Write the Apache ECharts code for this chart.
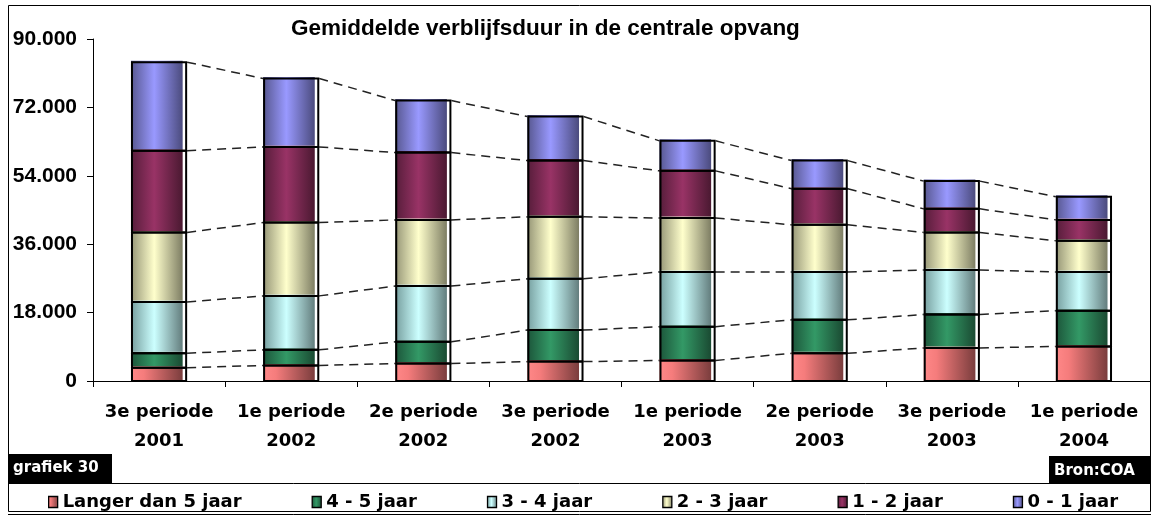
<!DOCTYPE html>
<html>
<head>
<meta charset="utf-8">
<script src="https://cdn.jsdelivr.net/npm/echarts@6/dist/echarts.min.js"></script>
<style>html,body{margin:0;padding:0;background:#fff;}#c{width:1151px;height:516px;}</style>
</head>
<body>
<div id="c"></div>
<script>
const categories = ['3e periode\n2001','1e periode\n2002','2e periode\n2002','3e periode\n2002','1e periode\n2003','2e periode\n2003','3e periode\n2003','1e periode\n2004'];
const seriesNames = ['Langer dan 5 jaar','4 - 5 jaar','3 - 4 jaar','2 - 3 jaar','1 - 2 jaar','0 - 1 jaar'];
const langer5 = [3500, 4100, 4600, 5100, 5400, 7300, 8700, 9100];
const jaar45  = [3800, 4100, 5700, 8300, 8900, 8800, 8800, 9400];
const jaar34  = [13500, 14200, 14700, 13500, 14400, 12600, 11700, 10200];
const jaar23  = [18300, 19300, 17400, 16300, 14200, 12400, 9900, 8200];
const jaar12  = [21500, 19900, 17700, 14800, 12400, 9500, 6200, 5500];
const jaar01  = [23300, 18000, 13700, 11600, 7900, 7400, 7300, 6100];
const yTicks = [0, 18000, 36000, 54000, 72000, 90000];

const allValues = [langer5, jaar45, jaar34, jaar23, jaar12, jaar01];
const stopsList = [
  [[0,'#ff8888'],[0.25,'#f57c7c'],[1,'#7a3d3d']],
  [[0,'#1c553a'],[0.45,'#339966'],[1,'#1a4a32']],
  [[0,'#769e9e'],[0.45,'#ccffff'],[1,'#637d7d']],
  [[0,'#959576'],[0.45,'#ffffcc'],[1,'#7d7d63']],
  [[0,'#561d3a'],[0.45,'#993366'],[1,'#4a1931']],
  [[0,'#57578f'],[0.45,'#9999ff'],[1,'#4b4b7d']]
];
const grads = stopsList.map(s => new echarts.graphic.LinearGradient(0,0,1,0, s.map(p => ({offset:p[0], color:p[1]}))));

// stacked bases/tops built from the arrays
const stacked = [];
const cum = categories.map(() => 0);
allValues.forEach((vals) => {
  const rows = vals.map((v, i) => { const r = [i, cum[i], cum[i] + v]; cum[i] += v; return r; });
  stacked.push(rows);
});

const W_FACTOR = 0.41;
function barRender(si) {
  return function (params, api) {
    const ci = api.value(0), lo = api.value(1), hi = api.value(2);
    const pT = api.coord([ci, hi]);
    const pB = api.coord([ci, lo]);
    const w = api.size([1, 0])[0] * W_FACTOR;
    const cx = pT[0];
    const oL = cx - w / 2, oR = cx + w / 2;
    const fL = oL - 1, fR = oR - 3.5;
    const fTop = pT[1] - 1.5;
    const fBot = lo === 0 ? pB[1] : pB[1] - 1.5;
    return {
      type: 'group',
      children: [
        { type: 'rect', shape: { x: fL, y: fTop, width: fR - fL, height: fBot - fTop }, style: { fill: grads[si] } },
        { type: 'rect', shape: { x: oL, y: pT[1], width: oR - oL, height: pB[1] - pT[1] }, style: { fill: 'none', stroke: '#000', lineWidth: 2 } }
      ]
    };
  };
}
function connRender(params, api) {
  const ci = api.value(0), v1 = api.value(1), v2 = api.value(2);
  const p1 = api.coord([ci, v1]);
  const p2 = api.coord([ci + 1, v2]);
  const w = api.size([1, 0])[0] * W_FACTOR;
  return {
    type: 'line',
    shape: { x1: p1[0] + w / 2 + 1, y1: p1[1], x2: p2[0] - w / 2 - 1, y2: p2[1] },
    style: { stroke: '#222', lineWidth: 1.5, lineDash: [9, 6] }
  };
}

const series = [];
stacked.forEach((rows, si) => {
  const conn = [];
  for (let i = 0; i < rows.length - 1; i++) conn.push([i, rows[i][2], rows[i + 1][2]]);
  series.push({
    type: 'custom', name: seriesNames[si] + '_c', z: 1, silent: true,
    renderItem: connRender, encode: { x: 0, y: [1, 2] }, data: conn
  });
});
stacked.forEach((rows, si) => {
  series.push({
    type: 'custom', name: seriesNames[si], z: 3,
    itemStyle: { color: grads[si] },
    renderItem: barRender(si), encode: { x: 0, y: [1, 2] }, data: rows
  });
});

function fmt(v) {
  return String(v).replace(/\B(?=(\d{3})+(?!\d))/g, '.');
}

const chart = echarts.init(document.getElementById('c'), null, { renderer: 'canvas' });
chart.setOption({
  animation: false,
  backgroundColor: '#fff',
  title: {
    text: 'Gemiddelde verblijfsduur in de centrale opvang',
    left: 286, top: 12,
    textStyle: { fontFamily: 'Liberation Sans', fontWeight: 'bold', fontSize: 22.5, color: '#000' }
  },
  grid: { left: 93, right: 1, top: 39, bottom: 135 },
  xAxis: {
    type: 'category', data: categories,
    axisLine: { lineStyle: { color: '#000', width: 1 } },
    axisTick: { show: true, length: 6, lineStyle: { color: '#000' } },
    axisLabel: { interval: 0, margin: 17, fontFamily: 'DejaVu Sans', fontWeight: 'bold', fontSize: 18, lineHeight: 29, color: '#000' },
    splitLine: { show: false }
  },
  yAxis: {
    type: 'value', min: yTicks[0], max: yTicks[yTicks.length - 1], interval: yTicks[1] - yTicks[0],
    axisLine: { show: true, lineStyle: { color: '#000', width: 1 } },
    axisTick: { show: true, length: 6, lineStyle: { color: '#000' } },
    axisLabel: { margin: 16, fontFamily: 'Liberation Sans', fontWeight: 'bold', fontSize: 21, color: '#000', formatter: fmt },
    splitLine: { show: false }
  },
  legend: {
    data: seriesNames,
    left: 43, top: 488,
    icon: 'rect', itemWidth: 9, itemHeight: 11, itemGap: 70,
    itemStyle: { borderColor: '#000', borderWidth: 1.3 },
    textStyle: { fontFamily: 'DejaVu Sans', fontWeight: 'bold', fontSize: 18, color: '#000' },
    selectedMode: false
  },
  graphic: [
    { type: 'rect', shape: { x: 8.5, y: 5.5, width: 1142, height: 506 }, style: { fill: 'none', stroke: '#000', lineWidth: 1 }, z: 10 },
    { type: 'line', shape: { x1: 8, y1: 483.5, x2: 1151, y2: 483.5 }, style: { stroke: '#000', lineWidth: 1 }, z: 10 },
    { type: 'line', shape: { x1: 8, y1: 514.5, x2: 1151, y2: 514.5 }, style: { stroke: '#000', lineWidth: 1 }, z: 10 },
    { type: 'rect', shape: { x: 8, y: 454, width: 104, height: 29 }, style: { fill: '#000' }, z: 10 },
    { type: 'text', x: 13, y: 468, style: { text: 'grafiek 30', fill: '#fff', font: 'bold 15px "DejaVu Sans"', textVerticalAlign: 'middle' }, z: 11 },
    { type: 'rect', shape: { x: 1049, y: 456, width: 102, height: 27 }, style: { fill: '#000' }, z: 10 },
    { type: 'text', x: 1054, y: 471, style: { text: 'Bron:COA', fill: '#fff', font: 'bold 15px "DejaVu Sans"', textVerticalAlign: 'middle' }, z: 11 }
  ],
  series: series
});
</script>
</body>
</html>
